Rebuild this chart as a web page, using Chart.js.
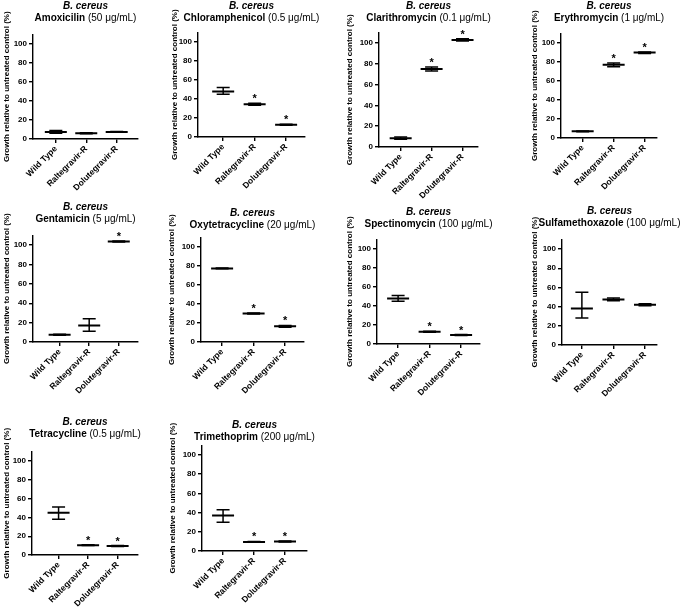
<!DOCTYPE html>
<html>
<head>
<meta charset="utf-8">
<script src="https://cdn.jsdelivr.net/npm/chart.js@4.4.1/dist/chart.umd.min.js"></script>
<style>
  html, body { margin: 0; padding: 0; background: #fff; }
  #wrap { position: relative; width: 685px; height: 607px; overflow: hidden; }
  .cell { position: absolute; }
</style>
</head>
<body>
<div id="wrap"></div>
<script>
// ---- data ----
const species = 'B. cereus';
const categories = ['Wild Type', 'Raltegravir-R', 'Dolutegravir-R'];
const drugs = ['Amoxicilin', 'Chloramphenicol', 'Clarithromycin', 'Erythromycin', 'Gentamicin',
    'Oxytetracycline', 'Spectinomycin', 'Sulfamethoxazole', 'Tetracycline', 'Trimethoprim'];
const doses = ['(50 μg/mL)', '(0.5 μg/mL)', '(0.1 μg/mL)', '(1 μg/mL)', '(5 μg/mL)',
    '(20 μg/mL)', '(100 μg/mL)', '(100 μg/mL)', '(0.5 μg/mL)', '(200 μg/mL)'];
const means = [
    [7.5, 6, 7.5], [48, 34.5, 13], [8.5, 75, 103], [7, 77, 90], [7.5, 17, 103.5],
    [77.5, 30, 16.5], [48, 13, 9.5], [38, 47.5, 42], [45, 10.5, 9.5], [37, 9.5, 10]
];
const lower = [
    [6, 5.5, 7], [45, 33.5, 12.5], [7.5, 73, 102], [6.5, 75, 89], [7, 11, 103],
    [77, 29.5, 15.5], [45, 12.5, 9], [28, 46, 41], [38, 10, 9], [30, 9, 9.5]
];
const upper = [
    [9, 6.5, 8], [52, 35.5, 13.5], [9.5, 77, 104], [7.5, 79, 90.5], [8, 24, 104],
    [78, 30.5, 17.5], [51, 13.5, 10], [55, 49, 43], [51, 11, 10], [43, 10, 10.5]
];
const significant = [
    [0, 0, 0], [0, 1, 1], [0, 1, 1], [0, 1, 1], [0, 0, 1],
    [0, 1, 1], [0, 1, 1], [0, 0, 0], [0, 1, 1], [0, 1, 1]
];
const yTicks = [0, 20, 40, 60, 80, 100];
const yLabel = 'Growth relative to untreated control (%)';
const Y_MAX = 110;

// ---- layout (pixels on the page) ----
const LAYOUT = [
    { cell: [0, 0, 165, 200],   axisL: 33,  axisR: 138, y0: 139, y100: 44,  labelX: 7,   titleY: 6,   xMin: -0.75, xMax: 2.7 },
    { cell: [165, 0, 175, 200], axisL: 198, axisR: 305, y0: 137, y100: 42,  labelX: 175, titleY: 6,   xMin: -0.8,  xMax: 2.6 },
    { cell: [340, 0, 170, 200], axisL: 379, axisR: 478, y0: 147, y100: 43,  labelX: 350, titleY: 6,   xMin: -0.7,  xMax: 2.5 },
    { cell: [510, 0, 175, 200], axisL: 561, axisR: 657, y0: 138, y100: 43,  labelX: 535, titleY: 6,   xMin: -0.7,  xMax: 2.4 },
    { cell: [0, 200, 165, 200], axisL: 33,  axisR: 138, y0: 342, y100: 245, labelX: 7,   titleY: 207, xMin: -0.9,  xMax: 2.65 },
    { cell: [165, 200, 175, 200], axisL: 201, axisR: 304, y0: 342, y100: 247, labelX: 172, titleY: 213, xMin: -0.67, xMax: 2.6 },
    { cell: [340, 200, 170, 200], axisL: 377, axisR: 480, y0: 344, y100: 249, labelX: 350, titleY: 212, xMin: -0.67, xMax: 2.6 },
    { cell: [510, 200, 175, 200], axisL: 562, axisR: 657, y0: 345, y100: 249, labelX: 535, titleY: 211, xMin: -0.63, xMax: 2.38 },
    { cell: [0, 400, 165, 207], axisL: 32,  axisR: 138, y0: 555, y100: 461, labelX: 7,   titleY: 422, xMin: -0.9,  xMax: 2.69 },
    { cell: [165, 400, 175, 207], axisL: 202, axisR: 307, y0: 551, y100: 455, labelX: 173, titleY: 425, xMin: -0.68, xMax: 2.71 }
];

const FONT = "'Liberation Sans', Arial, sans-serif";
const INK = '#000';

function panelText(p, lay) {
    return {
        id: 'panelText' + p,
        afterDatasetsDraw(chart) {
            const ctx = chart.ctx;
            const area = chart.chartArea;
            const cx = (area.left + area.right) / 2;
            const ty = lay.titleY - lay.cell[1];
            ctx.save();
            ctx.fillStyle = INK;
            ctx.textBaseline = 'middle';
            // title line 1
            ctx.font = 'italic bold 10px ' + FONT;
            ctx.textAlign = 'center';
            ctx.fillText(species, cx, ty);
            // title line 2: bold drug + regular dose
            const boldFont = 'bold 10px ' + FONT;
            const regFont = '10px ' + FONT;
            ctx.font = boldFont;
            const w1 = ctx.measureText(drugs[p] + ' ').width;
            ctx.font = regFont;
            const w2 = ctx.measureText(doses[p]).width;
            const x = cx - (w1 + w2) / 2;
            ctx.textAlign = 'left';
            ctx.font = boldFont;
            ctx.fillText(drugs[p] + ' ', x, ty + 12);
            ctx.font = regFont;
            ctx.fillText(doses[p], x + w1, ty + 12);
            // significance asterisks
            const xs = chart.scales.x, ys = chart.scales.y;
            ctx.font = 'bold 11px ' + FONT;
            ctx.textAlign = 'center';
            ctx.textBaseline = 'alphabetic';
            significant[p].forEach((s, i) => {
                if (!s) return;
                ctx.fillText('*', xs.getPixelForValue(i), ys.getPixelForValue(upper[p][i]) - 1);
            });
            ctx.restore();
        }
    };
}

function buildPanel(p) {
    const lay = LAYOUT[p];
    const [cl, ct, cw, ch] = lay.cell;
    const k = (lay.y0 - lay.y100) / 100;
    const plotTop = lay.y0 - Y_MAX * k;
    const padLeft = lay.labelX - 4.8 - cl;
    const yWidth = lay.axisL - cl - padLeft;
    const padTop = plotTop - ct;
    const xHeight = ct + ch - lay.y0;
    const padRight = cl + cw - lay.axisR;

    const box = document.createElement('div');
    box.className = 'cell';
    box.style.left = cl + 'px';
    box.style.top = ct + 'px';
    box.style.width = cw + 'px';
    box.style.height = ch + 'px';
    const canvas = document.createElement('canvas');
    box.appendChild(canvas);
    document.getElementById('wrap').appendChild(box);

    const whisker = [];
    categories.forEach((c, i) => {
        whisker.push({ x: i, y: lower[p][i] }, { x: i, y: upper[p][i] }, { x: i, y: null });
    });
    const pts = arr => arr.map((v, i) => ({ x: i, y: v }));

    const axisGrid = { drawOnChartArea: false, drawTicks: true, tickLength: 4, color: INK, lineWidth: 1.4 };
    const axisBorder = { display: true, color: INK, width: 1.4 };

    new Chart(canvas.getContext('2d'), {
        type: 'line',
        data: {
            datasets: [
                { data: whisker, borderColor: INK, borderWidth: 1.5, pointRadius: 0, spanGaps: false },
                { data: pts(upper[p]), showLine: false, pointStyle: 'line', pointRadius: 6.5, pointBorderWidth: 1.5, pointBorderColor: INK },
                { data: pts(lower[p]), showLine: false, pointStyle: 'line', pointRadius: 6.5, pointBorderWidth: 1.5, pointBorderColor: INK },
                { data: pts(means[p]), showLine: false, pointStyle: 'line', pointRadius: 11, pointBorderWidth: 2, pointBorderColor: INK }
            ]
        },
        options: {
            responsive: true,
            maintainAspectRatio: false,
            animation: false,
            events: [],
            layout: { padding: { left: padLeft, top: padTop, right: padRight, bottom: 0 } },
            plugins: { legend: { display: false }, tooltip: { enabled: false } },
            scales: {
                x: {
                    type: 'linear',
                    min: lay.xMin,
                    max: lay.xMax,
                    afterBuildTicks: s => { s.ticks = categories.map((c, i) => ({ value: i })); },
                    afterFit: s => { s.height = xHeight; },
                    grid: axisGrid,
                    border: axisBorder,
                    ticks: {
                        callback: v => categories[v],
                        autoSkip: false,
                        minRotation: 45,
                        maxRotation: 45,
                        padding: 1,
                        color: INK,
                        font: { family: FONT, size: 8.5, weight: 'bold' }
                    }
                },
                y: {
                    min: 0,
                    max: Y_MAX,
                    afterBuildTicks: s => { s.ticks = yTicks.map(v => ({ value: v })); },
                    afterFit: s => { s.width = yWidth; },
                    grid: axisGrid,
                    border: axisBorder,
                    title: {
                        display: true,
                        text: yLabel,
                        color: INK,
                        padding: 0,
                        font: { family: FONT, size: 8, weight: 'bold' }
                    },
                    ticks: {
                        padding: 2,
                        color: INK,
                        font: { family: FONT, size: 8, weight: 'bold' }
                    }
                }
            }
        },
        plugins: [panelText(p, lay)]
    });
}

drugs.forEach((d, p) => buildPanel(p));
</script>
</body>
</html>
